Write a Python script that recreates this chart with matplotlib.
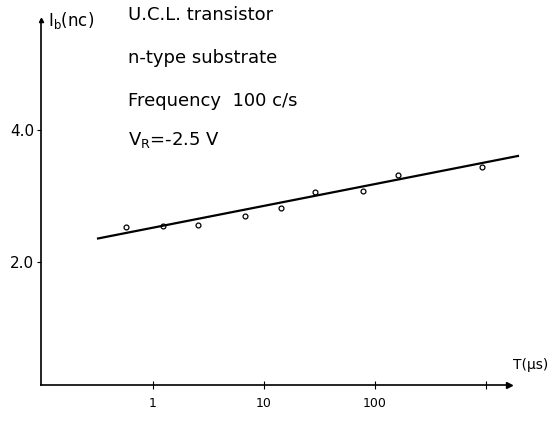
import matplotlib
matplotlib.use("Agg")
import matplotlib.pyplot as plt

# data
t_us = [0.57, 1.22, 2.56, 6.7, 14.1, 29, 78, 161, 915]
ib = [2.53, 2.55, 2.57, 2.70, 2.82, 3.06, 3.08, 3.32, 3.44]
fit_t = [0.32, 1940]
fit_ib = [2.36, 3.61]
xticks = [1, 10, 100, 1000]
xticklabels = ["1", "10", "100", ""]
yticks = [2.0, 4.0]
yticklabels = ["2.0", "4.0"]
notes = ["U.C.L. transistor", "n-type substrate", "Frequency  100 c/s",
         r"$\mathregular{V_R}$=-2.5 V"]

fig = plt.figure(figsize=(5.54, 4.22), dpi=100)
ax = fig.add_axes([0.074, 0.0877, 0.8646, 0.8649])
ax.set_xscale("log")
ax.set_xlim(0.098, 2024)
ax.set_ylim(0.14, 5.67)

ax.plot(fit_t, fit_ib, color="black", lw=1.6, clip_on=False, zorder=3)
ax.plot(t_us, ib, linestyle="none", marker="o", ms=3.5, mfc="white",
        mec="black", mew=0.9, zorder=2)

for s in ["top", "right"]:
    ax.spines[s].set_visible(False)
ax.spines["bottom"].set_bounds(0.098, 1620)
ax.spines["left"].set_linewidth(1.2)
ax.spines["bottom"].set_linewidth(1.2)
ax.plot([1620], [0.14], marker=">", color="black", ms=5, clip_on=False)
ax.plot([0.098], [5.67], marker="^", color="black", ms=3, clip_on=False)

ax.set_xticks(xticks)
ax.set_xticklabels(xticklabels)
ax.minorticks_off()
ax.set_yticks(yticks)
ax.set_yticklabels(yticklabels)
ax.tick_params(axis="x", direction="inout", length=6, labelsize=9, pad=6)
ax.tick_params(axis="y", direction="out", length=3, labelsize=11, pad=2)

ax.text(0.015, 1.0, r"$\mathregular{I_b}$(nc)", transform=ax.transAxes,
        fontsize=12, ha="left", va="center")
ax.text(0.985, 0.036, r"T(µs)", transform=ax.transAxes,
        fontsize=10, ha="left", va="bottom")

ys = [5.74, 5.1, 4.45, 3.85]
for s, yv in zip(notes, ys):
    ax.text(0.182, yv, s, fontsize=13, ha="left", va="center",
            transform=ax.get_yaxis_transform())

fig.savefig("out.png", dpi=100)
